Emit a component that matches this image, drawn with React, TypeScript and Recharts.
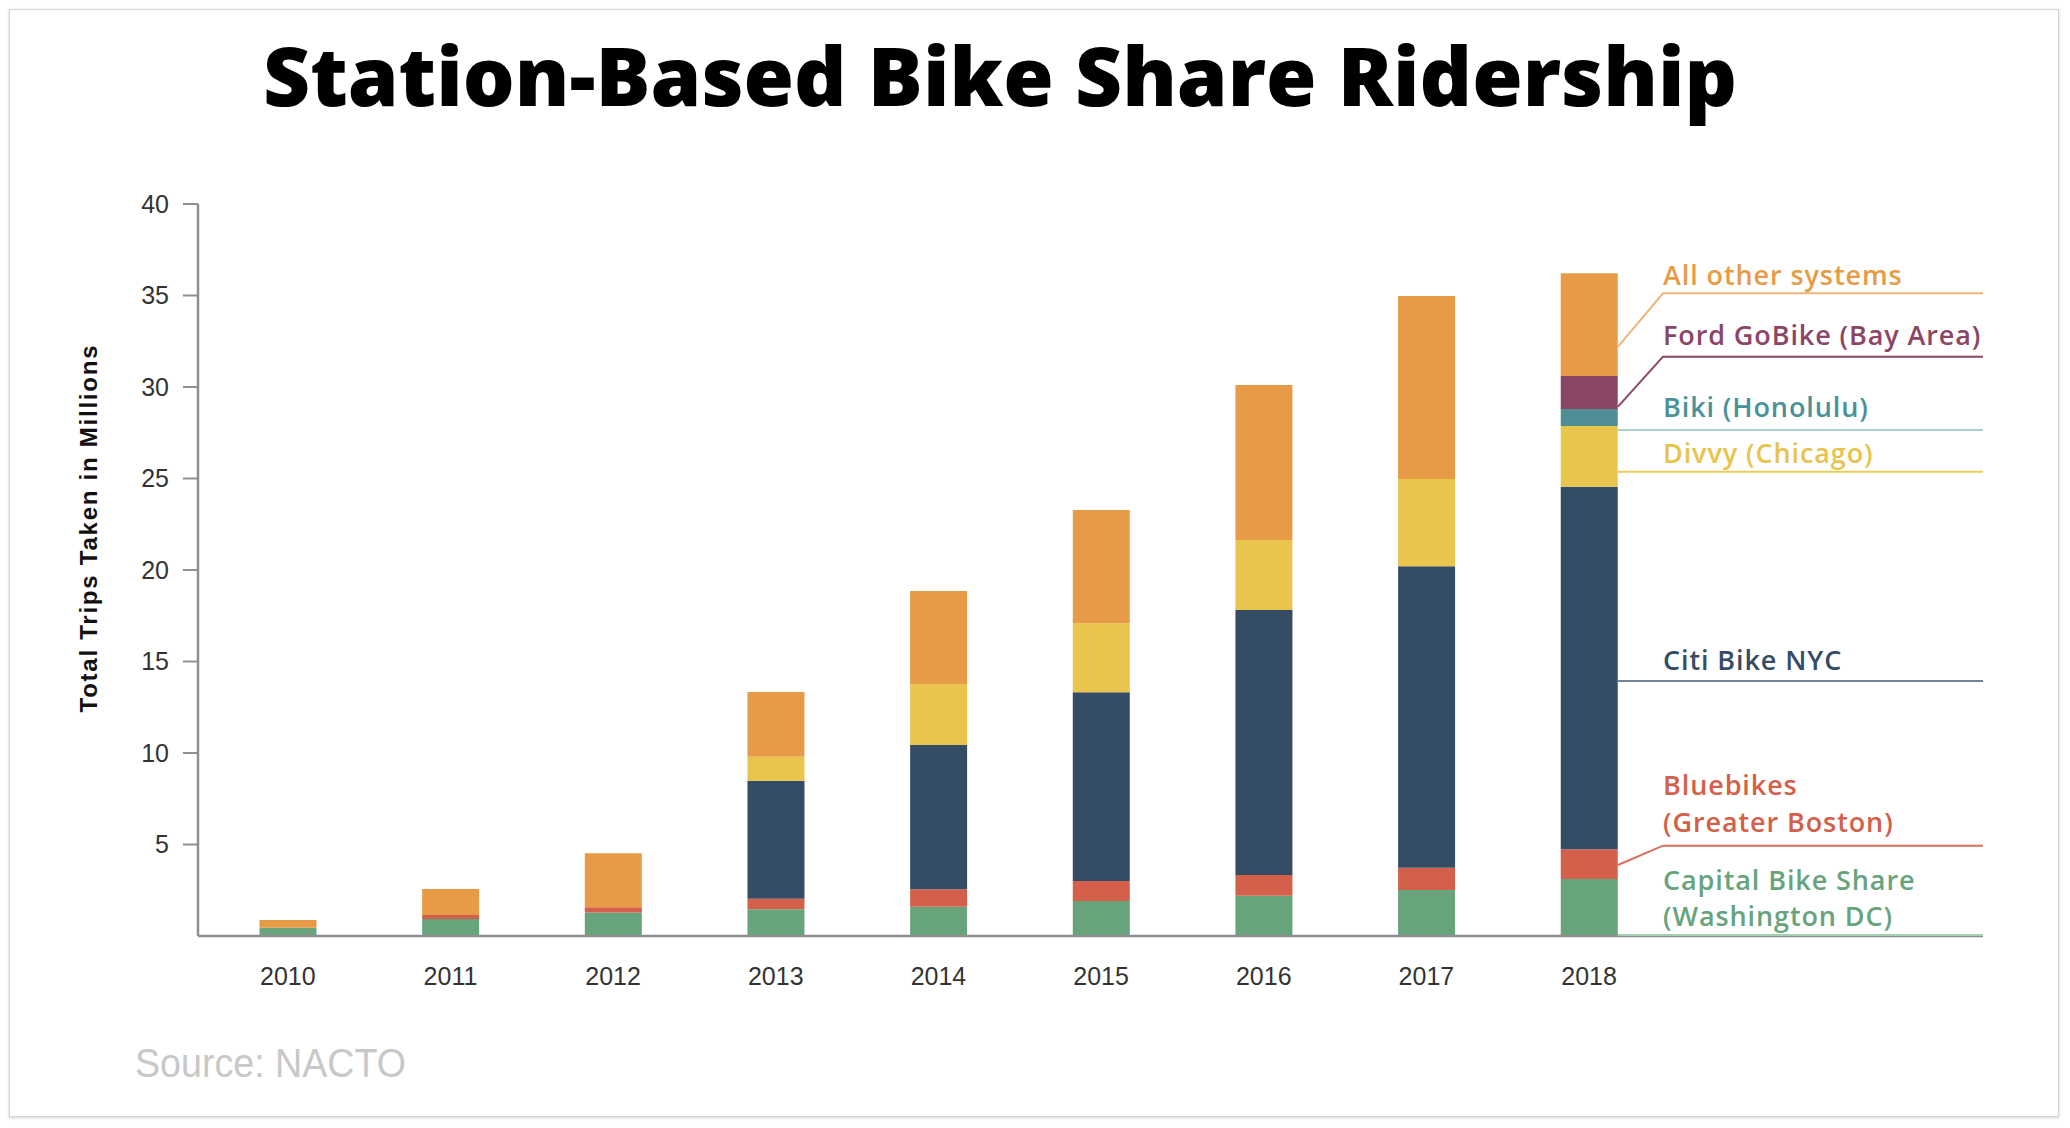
import React from 'react';
import { BarChart, Bar, XAxis, YAxis } from 'recharts';

// ---------- data ----------
const years = ['2010', '2011', '2012', '2013', '2014', '2015', '2016', '2017', '2018'];
const capitalBikeShare = [0.45, 0.93, 1.29, 1.46, 1.6, 1.91, 2.2, 2.51, 3.11];
const bluebikes = [0, 0.22, 0.28, 0.58, 0.95, 1.09, 1.13, 1.22, 1.63];
const citiBike = [0, 0, 0, 6.45, 7.89, 10.32, 14.48, 16.47, 19.81];
const divvy = [0, 0, 0, 1.31, 3.33, 3.77, 3.83, 4.77, 3.32];
const biki = [0, 0, 0, 0, 0, 0, 0, 0, 0.93];
const fordGoBike = [0, 0, 0, 0, 0, 0, 0, 0, 1.8];
const allOther = [0.42, 1.42, 2.95, 3.53, 5.08, 6.19, 8.47, 10.0, 5.61];
const yTicks = [5, 10, 15, 20, 25, 30, 35, 40];

const data = years.map((year, i) => ({
  year,
  capital: capitalBikeShare[i],
  bluebikes: bluebikes[i],
  citi: citiBike[i],
  divvy: divvy[i],
  biki: biki[i],
  ford: fordGoBike[i],
  other: allOther[i],
}));

// ---------- style ----------
const C = {
  green: '#67A47C',
  red: '#D4604B',
  navy: '#354C65',
  yellow: '#E9C54D',
  teal: '#4E8E94',
  purple: '#8B4666',
  orange: '#E89B46',
  axis: '#8f8f8f',
};

const series = [
  { key: 'capital', color: C.green },
  { key: 'bluebikes', color: C.red },
  { key: 'citi', color: C.navy },
  { key: 'divvy', color: C.yellow },
  { key: 'biki', color: C.teal },
  { key: 'ford', color: C.purple },
  { key: 'other', color: C.orange },
];

const LABEL_FONT = '"Open Sans", "Noto Sans", sans-serif';
const TICK_FONT = '"Liberation Sans", Arial, sans-serif';

// right-side annotations (layout, in page pixels)
const annotations = [
  { lines: ['All other systems'], x: 1663, y: [285], color: C.orange, stroke: '#EFB57A', pts: [[1618, 346.7], [1663, 293.3], [1983, 293.3]] },
  { lines: ['Ford GoBike (Bay Area)'], x: 1663, y: [345], color: C.purple, stroke: '#8B4666', pts: [[1618, 406.7], [1663, 356.7], [1983, 356.7]] },
  { lines: ['Biki (Honolulu)'], x: 1663, y: [416.7], color: '#4A9198', stroke: '#A9D0D4', pts: [[1618, 430], [1983, 430]] },
  { lines: ['Divvy (Chicago)'], x: 1663, y: [463.3], color: '#E8C44C', stroke: '#EBCB5C', pts: [[1618, 471.7], [1983, 471.7]] },
  { lines: ['Citi Bike NYC'], x: 1663, y: [670], color: C.navy, stroke: '#6F8296', pts: [[1618, 681], [1983, 681]] },
  { lines: ['Bluebikes', '(Greater Boston)'], x: 1663, y: [795, 831.7], color: C.red, stroke: '#D9705E', pts: [[1618, 865], [1663, 845.7], [1983, 845.7]] },
  { lines: ['Capital Bike Share', '(Washington DC)'], x: 1663, y: [890, 926], color: C.green, stroke: '#A3CFB2', pts: [[1618, 935], [1983, 935]] },
];

export default function App() {
  return (
    <div style={{ position: 'relative', width: 2070, height: 1128, background: '#fff', overflow: 'hidden' }}>
      <style>{`body{margin:0;background:#fff}`}</style>
      <div
        style={{
          position: 'absolute',
          left: 9,
          top: 9,
          width: 2048,
          height: 1106,
          border: '1.5px solid #d4d4d4',
          boxShadow: '0 1px 3px rgba(0,0,0,0.18)',
          background: '#fff',
        }}
      />
      <div style={{ position: 'absolute', left: 0, top: 0 }}>
        <BarChart
          width={2070}
          height={1128}
          data={data}
          margin={{ top: 204, right: 87, bottom: 132, left: 118 }}
        >
          <XAxis
            dataKey="year"
            height={60}
            interval={0}
            padding={{ left: 8.5, right: 312.6 }}
            axisLine={{ stroke: C.axis, strokeWidth: 2.5 }}
            tickLine={false}
            tickSize={0}
            tickMargin={31}
            tick={{ fontSize: 25, fill: '#333', fontFamily: TICK_FONT }}
          />
          <YAxis
            width={80}
            type="number"
            domain={[0, 40]}
            ticks={yTicks}
            interval={0}
            axisLine={{ stroke: C.axis, strokeWidth: 2.5 }}
            tickLine={{ stroke: C.axis, strokeWidth: 2 }}
            tickSize={15}
            tickMargin={14}
            tick={{ fontSize: 25, fill: '#333', fontFamily: TICK_FONT }}
          />
          {series.map((s) => (
            <Bar
              key={s.key}
              dataKey={s.key}
              stackId="a"
              fill={s.color}
              barSize={57}
              isAnimationActive={false}
            />
          ))}
        </BarChart>
      </div>
      <svg
        width={2070}
        height={1128}
        style={{ position: 'absolute', left: 0, top: 0, pointerEvents: 'none' }}
      >
        <text
          x={263}
          y={106}
          fontFamily={'"Open Sans", sans-serif'}
          fontWeight={800}
          fontSize={82}
          fill="#000"
          textLength={1474}
          lengthAdjust="spacingAndGlyphs"
        >
          Station-Based Bike Share Ridership
        </text>
        <text
          transform="translate(88,529) rotate(-90)"
          textAnchor="middle"
          dominantBaseline="central"
          fontFamily={TICK_FONT}
          fontWeight={700}
          fontSize={24}
          fill="#111"
          textLength={367}
        >
          Total Trips Taken in Millions
        </text>
        <text
          x={135}
          y={1076.7}
          fontFamily={TICK_FONT}
          fontSize={40}
          fill="#C8C8C8"
          textLength={271}
          lengthAdjust="spacingAndGlyphs"
        >
          Source: NACTO
        </text>
        {annotations.map((a, i) => (
          <g key={i}>
            <polyline
              points={a.pts.map((p) => p.join(',')).join(' ')}
              fill="none"
              stroke={a.stroke}
              strokeWidth={2}
            />
            {a.lines.map((ln, j) => (
              <text
                key={j}
                x={a.x}
                y={a.y[j]}
                fontFamily={LABEL_FONT}
                fontWeight={600}
                fontSize={27}
                letterSpacing={0.9}
                fill={a.color}
              >
                {ln}
              </text>
            ))}
          </g>
        ))}
      </svg>
    </div>
  );
}
